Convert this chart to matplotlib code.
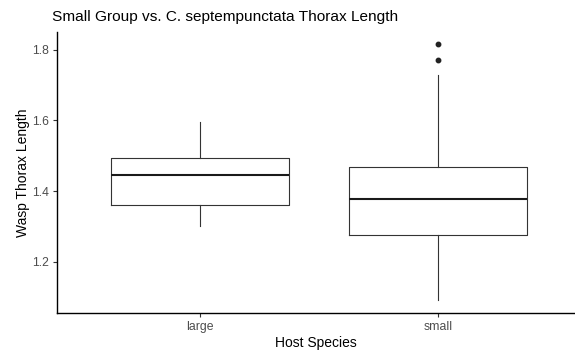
import matplotlib.pyplot as plt

plt.rcParams['font.family'] = ['Liberation Sans', 'DejaVu Sans']

# values
groups = ['large', 'small']
q1 = [1.361, 1.276]
med = [1.446, 1.377]
q3 = [1.493, 1.469]
whislo = [1.301, 1.091]
whishi = [1.597, 1.728]
outliers = [[], [1.771, 1.816]]

stats = []
for i, g in enumerate(groups):
    stats.append({'label': g, 'q1': q1[i], 'med': med[i], 'q3': q3[i],
                  'whislo': whislo[i], 'whishi': whishi[i], 'fliers': outliers[i]})

fig = plt.figure(figsize=(5.75, 3.54), dpi=100)
ax = fig.add_axes([57 / 575, 1 - 313 / 354, 1 - 57 / 575, (313 - 32) / 354])

line = dict(color='#333333', linewidth=0.8)
ax.bxp(stats, positions=[1, 2], widths=0.75, showcaps=False,
       boxprops=line, whiskerprops=line,
       medianprops=dict(color='#1a1a1a', linewidth=1.5),
       flierprops=dict(marker='o', markersize=3.2, markerfacecolor='#222222',
                       markeredgecolor='#222222'))

ax.set_xlim(0.4, 0.4 + (575 - 57) / 238)
ax.set_ylim(1.054, 1.851)
ax.set_yticks([1.2, 1.4, 1.6, 1.8])
ax.set_yticklabels(['1.2', '1.4', '1.6', '1.8'])

for s in ['top', 'right']:
    ax.spines[s].set_visible(False)
for s in ['left', 'bottom']:
    ax.spines[s].set_linewidth(1.0)
    ax.spines[s].set_color('black')

ax.tick_params(axis='both', colors='#333333', labelcolor='#4d4d4d',
               labelsize=8.8, length=3, width=0.8, pad=3)

ax.set_xlabel('Host Species', fontsize=10, color='black', labelpad=2)
ax.set_ylabel('Wasp Thorax Length', fontsize=10, color='black', labelpad=1)
fig.text(52 / 575, 1 - 17 / 354, 'Small Group vs. C. septempunctata Thorax Length',
         fontsize=11.1, ha='left', va='center')

fig.savefig('out.png', dpi=100)
